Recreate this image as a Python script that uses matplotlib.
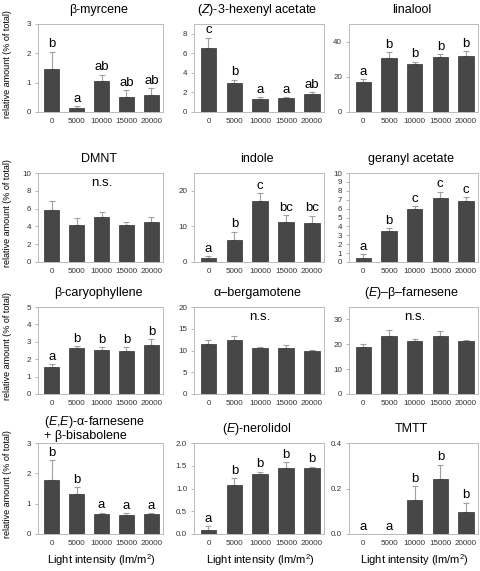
import matplotlib
matplotlib.use("Agg")
import matplotlib.pyplot as plt
import numpy as np

plt.rcParams['font.family'] = ['Liberation Sans', 'DejaVu Sans']
plt.rcParams['mathtext.fontset'] = 'custom'
plt.rcParams['mathtext.rm'] = 'Liberation Sans'
plt.rcParams['mathtext.it'] = 'Liberation Sans:italic'

categories = ["0", "5000", "10000", "15000", "20000"]

titles = ["β-myrcene", "($\\mathit{Z}$)-3-hexenyl acetate", "linalool",
          "DMNT", "indole", "geranyl acetate",
          "β-caryophyllene", "α–bergamotene", "($\\mathit{E}$)–β–farnesene",
          "", "($\\mathit{E}$)-nerolidol", "TMTT"]

means = [
    [1.47, 0.13, 1.05, 0.52, 0.57],
    [6.5, 3.0, 1.3, 1.4, 1.85],
    [17.0, 30.5, 27.0, 31.5, 32.0],
    [5.8, 4.2, 5.1, 4.15, 4.45],
    [1.0, 6.3, 17.0, 11.2, 10.9],
    [0.5, 3.5, 6.0, 7.2, 6.8],
    [1.55, 2.65, 2.55, 2.5, 2.8],
    [11.6, 12.4, 10.6, 10.5, 9.9],
    [18.8, 23.5, 21.3, 23.3, 21.3],
    [1.77, 1.33, 0.67, 0.63, 0.66],
    [0.08, 1.08, 1.32, 1.46, 1.44],
    [0.0, 0.0, 0.148, 0.24, 0.098],
]
errors = [
    [0.58, 0.07, 0.22, 0.23, 0.25],
    [1.1, 0.3, 0.2, 0.1, 0.15],
    [1.5, 3.5, 1.5, 1.5, 2.5],
    [1.0, 0.8, 0.5, 0.35, 0.6],
    [0.6, 2.2, 2.3, 1.9, 2.1],
    [0.4, 0.3, 0.3, 0.7, 0.5],
    [0.17, 0.1, 0.15, 0.18, 0.35],
    [0.7, 0.9, 0.3, 0.7, 0.3],
    [1.5, 2.3, 1.0, 2.0, 0.6],
    [0.66, 0.22, 0.03, 0.05, 0.03],
    [0.09, 0.15, 0.05, 0.12, 0.04],
    [0.0, 0.0, 0.062, 0.065, 0.04],
]
letters = [
    ["b", "a", "ab", "ab", "ab"],
    ["c", "b", "a", "a", "ab"],
    ["a", "b", "b", "b", "b"],
    None,
    ["a", "b", "c", "bc", "bc"],
    ["a", "b", "c", "c", "c"],
    ["a", "b", "b", "b", "b"],
    None,
    None,
    ["b", "b", "a", "a", "a"],
    ["a", "b", "b", "b", "b"],
    ["a", "a", "b", "b", "b"],
]
ylims = [3, 9, 50, 10, 25, 10, 5, 20, 35, 3, 2, 0.4]
yticks = [
    [0, 1, 2, 3], [0, 2, 4, 6, 8], [0, 20, 40],
    list(range(0, 11, 2)), [0, 10, 20], list(range(0, 11)),
    list(range(0, 6)), [0, 5, 10, 15, 20], [0, 10, 20, 30],
    [0, 1, 2, 3], [0.0, 0.5, 1.0, 1.5, 2.0], [0.0, 0.2, 0.4],
]
ytickfmt = ["{:g}"] * 10 + ["{:.1f}", "{:.1f}"]

W, H = 480, 571
fig = plt.figure(figsize=(W / 100, H / 100), dpi=100)

cols = [(38, 163), (194, 324), (349, 478)]
rows = [(24, 112), (173, 262), (307, 394), (443, 534)]

x = np.arange(len(categories))
for i in range(12):
    r, c = divmod(i, 3)
    l, rr = cols[c]
    t, b = rows[r]
    ax = fig.add_axes([l / W, 1 - b / H, (rr - l) / W, (b - t) / H])
    ax.bar(x, means[i], width=0.6, color='#474747', edgecolor='#333333', linewidth=0.5, zorder=2)
    err = np.array(errors[i])
    ax.errorbar(x, means[i], yerr=[np.zeros_like(err), err], fmt='none',
                ecolor='#a0a0a0', elinewidth=0.8, capsize=2.3, capthick=0.8, zorder=1)
    ax.set_xlim(-0.56, 4.47)
    ax.set_ylim(0, ylims[i])
    ax.set_yticks(yticks[i])
    ax.set_yticklabels([ytickfmt[i].format(v) for v in yticks[i]])
    ax.set_xticks(x)
    ax.set_xticklabels(categories)
    ax.tick_params(axis='x', length=0, labelsize=5.8, pad=4, colors='#333333')
    ax.tick_params(axis='y', length=2, width=0.5, labelsize=5.8, pad=3, colors='#333333', color='#999999')
    for s in ax.spines.values():
        s.set_color('#bbbbbb')
        s.set_linewidth(0.7)
    if letters[i] is not None:
        for j in range(5):
            ax.annotate(letters[i][j], (x[j], means[i][j] + errors[i][j]),
                        xytext=(0, 1), textcoords='offset points',
                        ha='center', va='bottom', fontsize=9.5)
    else:
        ax.text(2, ylims[i] * 0.89, "n.s.", ha='center', va='center', fontsize=9.5)
    cx = (l + rr) / 2 - 2
    if titles[i]:
        fig.text(cx / W, 1 - (t - 14) / H, titles[i], ha='center', va='center', fontsize=9)
    if c == 0:
        fig.text(8 / W, 1 - ((t + b) / 2 - 4) / H, "relative amount (% of total)",
                 rotation=90, ha='center', va='center', fontsize=6.5)
    if r == 3:
        fig.text((cx + 3) / W, 1 - 560 / H, "Light intensity (lm/m$^2$)",
                 ha='center', va='center', fontsize=8)

fig.text(44 / W, 1 - 422 / H, "($\\mathit{E}$,$\\mathit{E}$)-α-farnesene", ha='left', va='center', fontsize=9)
fig.text(44 / W, 1 - 436 / H, "+ β-bisabolene", ha='left', va='center', fontsize=9)

fig.savefig("out.png", dpi=100, facecolor='white')
